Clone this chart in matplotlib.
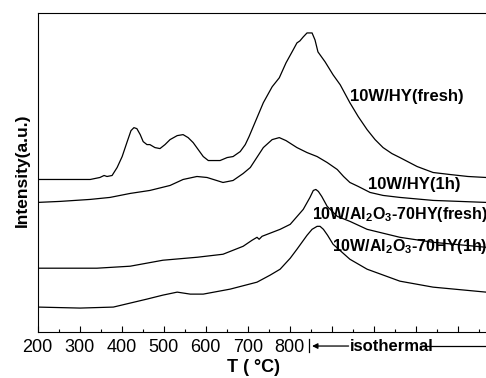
import matplotlib.pyplot as plt
import matplotlib.transforms as mtransforms
from matplotlib.ticker import MultipleLocator, FixedLocator

plt.rcParams['font.family'] = ['Liberation Sans', 'DejaVu Sans']
plt.rcParams['mathtext.fontset'] = 'custom'
plt.rcParams['mathtext.rm'] = 'Liberation Sans:bold'
plt.rcParams['mathtext.it'] = 'Liberation Sans:bold'
plt.rcParams['mathtext.bf'] = 'Liberation Sans:bold'

# TPD-type profiles, temperature (C) vs intensity (a.u., curves offset)
t_hy_fresh = [200, 253, 301, 325, 348, 358, 365, 377, 389, 401, 413, 422, 429, 436,
              444, 451, 460, 467, 479, 491, 503, 515, 532, 546, 558, 570, 582, 594,
              606, 617, 634, 651, 665, 682, 694, 703, 713, 737, 758, 775, 791, 808,
              817, 824, 832, 841, 853, 860, 867, 884, 903, 920, 943, 963, 984, 1003,
              1022, 1043, 1062, 1103, 1141, 1181, 1224, 1267]
i_hy_fresh = [153, 153, 153, 153, 155, 157, 156, 157, 165, 176, 191, 202, 205, 204,
              198, 191, 188, 188, 185, 184, 188, 193, 197, 198, 195, 190, 183, 176,
              172, 172, 172, 175, 176, 181, 188, 196, 206, 230, 246, 255, 270, 283,
              290, 292, 296, 300, 300, 293, 281, 271, 258, 248, 230, 216, 203, 193,
              185, 179, 175, 166, 160, 158, 156, 155]

t_hy_1h = [200, 253, 325, 372, 420, 467, 515, 546, 579, 603, 641, 665, 689, 706, 737,
           758, 775, 791, 817, 841, 865, 889, 913, 928, 943, 963, 991, 1022, 1062,
           1141, 1267]
i_hy_1h = [130, 131, 133, 135, 139, 142, 147, 153, 156, 155, 150, 152, 159, 165, 185,
           193, 195, 192, 185, 180, 176, 170, 163, 156, 150, 146, 140, 137, 135,
           132, 130]

t_al_fresh = [200, 341, 420, 498, 580, 641, 689, 710, 722, 727, 734, 777, 801, 832,
              848, 856, 862, 868, 876, 889, 913, 943, 984, 1062, 1141, 1267]
i_al_fresh = [64, 64, 66, 72, 75, 78, 86, 92, 95, 93, 96, 103, 108, 123,
              135, 142, 143, 141, 136, 126, 116, 111, 103, 95, 90, 85]

t_al_1h = [200, 301, 380, 460, 498, 532, 563, 594, 658, 722, 753, 777, 801, 817, 841,
           853, 865, 872, 880, 890, 903, 943, 984, 1062, 1141, 1267]
i_al_1h = [25, 24, 25, 33, 37, 40, 38, 38, 43, 50, 57, 63, 74, 83, 97,
           103, 106, 106, 103, 97, 88, 73, 63, 51, 45, 40]

series = [
    (t_hy_fresh, i_hy_fresh, '10W/HY(fresh)', 944, 236, 12),
    (t_hy_1h, i_hy_1h, '10W/HY(1h)', 986, 148, 12),
    (t_al_fresh, i_al_fresh, '10W/Al$_2$O$_3$-70HY(fresh)', 852, 118, 11.5),
    (t_al_1h, i_al_1h, '10W/Al$_2$O$_3$-70HY(1h)', 900, 86, 11.5),
]

fig = plt.figure(figsize=(4.86, 3.78), dpi=100)
ax = fig.add_axes([0.0776, 0.1217, 0.9224, 0.8439])

for t, inten, label, lx, ly, fs in series:
    ax.plot(t, inten, color='black', lw=0.9)
    ax.text(lx, ly, label, fontsize=fs, fontweight='bold', va='center', ha='left')

ax.set_xlim(200, 1267)
ax.set_ylim(0, 320)

ax.spines['right'].set_visible(False)
ax.yaxis.set_visible(False)

ax.xaxis.set_major_locator(FixedLocator(range(200, 1300, 100)))
ax.xaxis.set_minor_locator(MultipleLocator(50))
ax.set_xticklabels([str(v) if v <= 800 else '' for v in range(200, 1300, 100)])
ax.tick_params(axis='x', which='major', direction='in', length=4.5, width=0.8,
               labelsize=13, pad=5)
ax.tick_params(axis='x', which='minor', direction='in', length=2.2, width=0.8)

fig.text(0.5206, 0.029, 'T ( °C)', fontsize=13, fontweight='bold', ha='center', va='center')
fig.text(0.047, 0.55, 'Intensity(a.u.)', fontsize=12.5, fontweight='bold',
         rotation=90, ha='center', va='center')

# isothermal section marker below the axis
trans = mtransforms.blended_transform_factory(ax.transData, ax.transAxes)
y_iso = -0.044
ax.plot([846, 846], [-0.022, -0.063], color='black', lw=0.9, transform=trans, clip_on=False)
ax.annotate('', xy=(853, y_iso), xytext=(940, y_iso), xycoords=trans, textcoords=trans,
            arrowprops=dict(arrowstyle='-|>', lw=0.9, color='black', mutation_scale=8,
                            shrinkA=0, shrinkB=0))
ax.text(942, y_iso, 'isothermal', fontsize=12, fontweight='bold', ha='left', va='center',
        transform=trans)
ax.plot([1110, 1267], [y_iso, y_iso], color='black', lw=0.9, transform=trans, clip_on=False)

fig.savefig('out.png', dpi=100)
